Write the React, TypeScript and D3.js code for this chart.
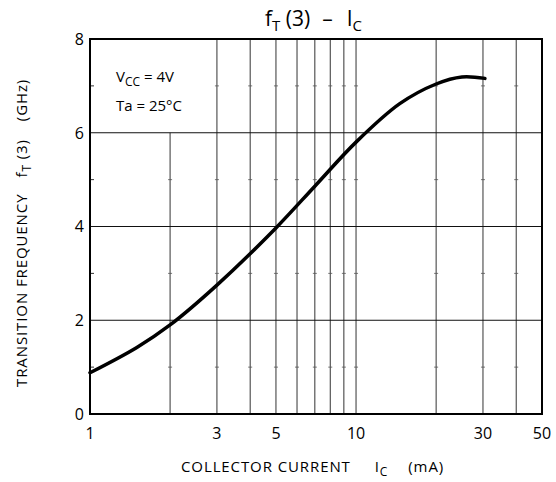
import React from "react";
import * as d3 from "d3";

const currentMA = [1.0, 1.5, 2, 3, 5, 7, 10, 14.6, 20, 25, 30.5];
const ftGHz = [0.88, 1.42, 1.9, 2.75, 3.97, 4.86, 5.8, 6.62, 7.04, 7.19, 7.16];
const xTickLabels = [1, 3, 5, 10, 30, 50];
const xGrid = [2, 3, 4, 5, 6, 7, 8, 9, 10, 20, 30, 40];
const yTickLabels = [0, 2, 4, 6, 8];
const yGrid = [2, 4, 6];
const yMinor = [1, 3, 5, 7];

const W = 556, H = 482;
const L = 90, R = 542, T = 39, B = 414;
const FONT = "'Open Sans', 'DejaVu Sans', sans-serif";

export default function App() {
  const x = d3.scaleLog().domain([1, 50]).range([L, R]);
  const y = d3.scaleLinear().domain([0, 8]).range([B, T]);
  const line = d3
    .line<number>()
    .x((_, i) => x(currentMA[i]))
    .y((d) => y(d))
    .curve(d3.curveCatmullRom.alpha(0.5));

  return (
    <svg width={W} height={H} style={{ position: "absolute", left: 0, top: 0, background: "#fff" }} fontFamily={FONT}>
      <rect x={0} y={0} width={W} height={H} fill="#fff" />
      {xGrid.map((v) => (
        <line key={"vx" + v} x1={x(v)} x2={x(v)} y1={v === 2 ? y(6) : T} y2={B} stroke="#333" strokeWidth={1} />
      ))}
      {yGrid.map((v) => (
        <line key={"hy" + v} x1={L} x2={R} y1={y(v)} y2={y(v)} stroke="#111" strokeWidth={1} />
      ))}
      {yMinor.map((v) => (
        <g key={"m" + v}>
          <line x1={L} x2={L + 4} y1={y(v)} y2={y(v)} stroke="#333" />
          {xGrid.filter((g) => !(g === 2 && v > 6)).map((g) => (
            <line key={g} x1={x(g) - 2} x2={x(g) + 2} y1={y(v)} y2={y(v)} stroke="#555" strokeWidth={0.8} />
          ))}
        </g>
      ))}
      <rect x={L} y={T} width={R - L} height={B - T} fill="none" stroke="#000" strokeWidth={2} />
      <path d={line(ftGHz) || ""} fill="none" stroke="#000" strokeWidth={3.5} strokeLinecap="round" strokeLinejoin="round" />
      {yTickLabels.map((v) => (
        <text key={"yl" + v} x={L - 6} y={y(v)} dy="0.36em" textAnchor="end" fontSize={16}>{v}</text>
      ))}
      {xTickLabels.map((v) => (
        <text key={"xl" + v} x={x(v)} y={B + 25} textAnchor="middle" fontSize={16}>{v}</text>
      ))}
      <text x={265} y={26} fontSize={21}>
        f<tspan fontSize={15} dy={5}>T</tspan><tspan dy={-5}> (3)</tspan>
        <tspan dx={12}>–</tspan>
        <tspan dx={14}>I</tspan><tspan fontSize={15} dy={5}>C</tspan>
      </text>
      <text x={116} y={82} fontSize={15}>
        V<tspan fontSize={12} dy={4}>CC</tspan><tspan dy={-4}> = 4V</tspan>
      </text>
      <text x={116} y={111} fontSize={15}>Ta = 25°C</text>
      <text x={181} y={472} fontSize={15} letterSpacing={0.9}>
        COLLECTOR CURRENT<tspan dx={24}>I</tspan><tspan fontSize={12} dy={4}>C</tspan><tspan dy={-4} dx={20}>(mA)</tspan>
      </text>
      <text transform="translate(27,387) rotate(-90)" fontSize={15} letterSpacing={0.9}>
        TRANSITION FREQUENCY<tspan dx={16}>f</tspan><tspan fontSize={12} dy={4}>T</tspan><tspan dy={-4}> (3)</tspan><tspan dx={18}>(GHz)</tspan>
      </text>
    </svg>
  );
}
